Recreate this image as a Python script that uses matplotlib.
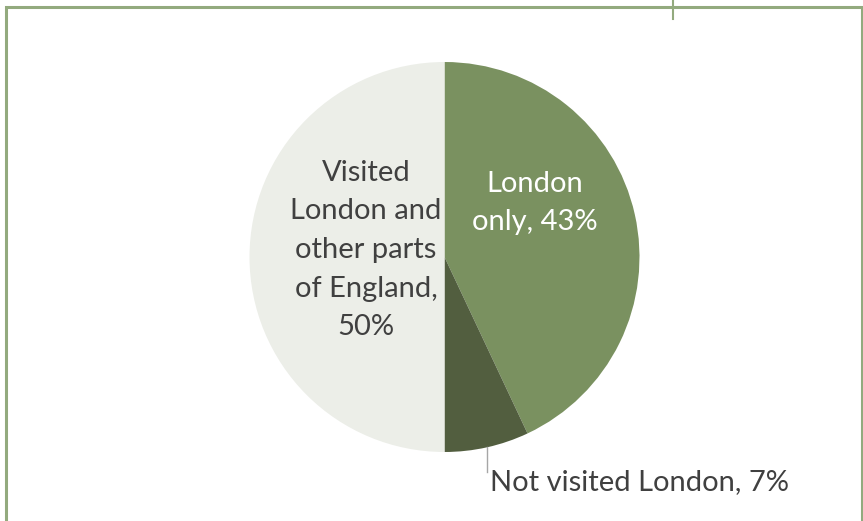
import matplotlib.pyplot as plt
from matplotlib.patches import Rectangle

# dati della torta (in senso orario da ore 12)
categorie = ['London\nonly', 'Not visited London', 'Visited\nLondon and\nother parts\nof England']
percentuali = [43, 7, 50]
colori = ['#7A9160', '#525E3F', '#ECEEE8']

W, H = 863, 521
fig = plt.figure(figsize=(W / 100, H / 100), dpi=100)
ax = fig.add_axes([0, 0, 1, 1])

# cornice verde
ax.add_patch(Rectangle((6, -10), 856, H - 7 + 10, fill=False, edgecolor='#93AA7E', linewidth=2.2))
ax.plot([673, 673], [H, H - 19], color='#93AA7E', linewidth=1.5)

cx, cy, r = 444.5, H - 257, 195
ax.pie(percentuali, colors=colori, startangle=90, counterclock=False,
       center=(cx, cy), radius=r, frame=True,
       wedgeprops=dict(linewidth=0))
ax.set_xlim(0, W)
ax.set_ylim(0, H)
ax.set_aspect('auto')
ax.axis('off')

font = ['Lato', 'DejaVu Sans']
fs = 21

ax.text(366, H - 250, f'{categorie[2]},\n{percentuali[2]}%', ha='center', va='center',
        fontsize=fs, color='#404040', family=font, linespacing=1.6)
ax.text(535, H - 203, f'{categorie[0]}, {percentuali[0]}%', ha='center', va='center',
        fontsize=fs, color='white', family=font, linespacing=1.55)
ax.plot([487, 487], [H - 447, H - 472], color='#A6A6A6', linewidth=1)
ax.text(490, H - 482, f'{categorie[1]}, {percentuali[1]}%', ha='left', va='center',
        fontsize=fs, color='#404040', family=font)

fig.savefig('out.png', dpi=100)
